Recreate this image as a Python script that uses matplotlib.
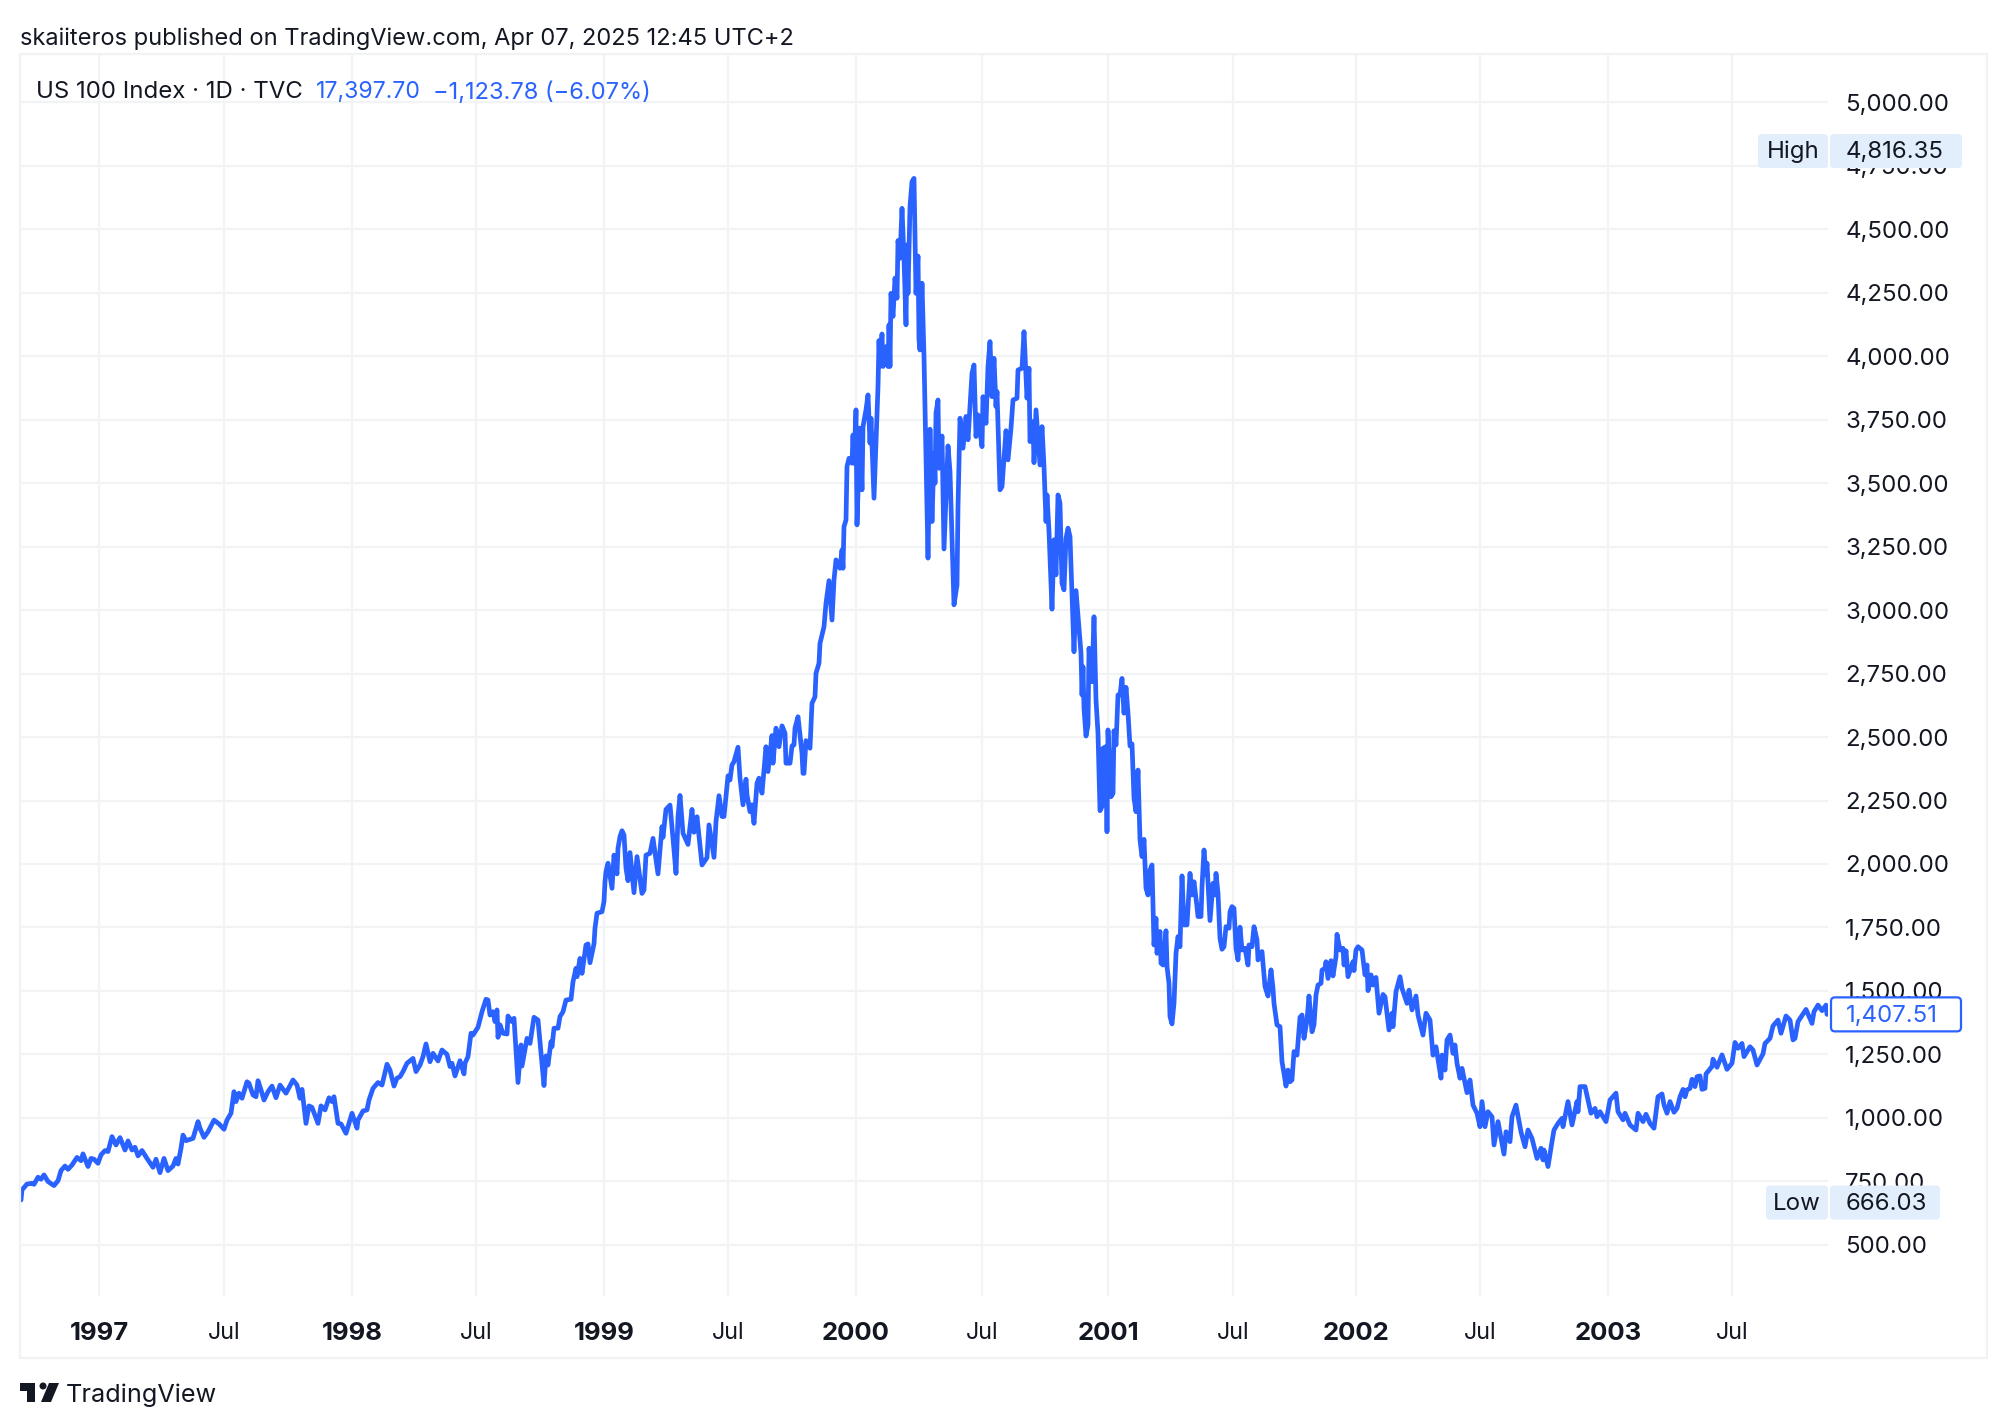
import matplotlib
matplotlib.use('Agg')
import matplotlib.pyplot as plt
from matplotlib.patches import Rectangle, FancyBboxPatch, Polygon, Circle

WIDTH, HEIGHT = 2008, 1428

# trading-day index of each sampled close, counted from the first bar
bars = [
    1, 2, 7, 12, 14, 18, 21, 24, 28, 34, 38, 41,
    45, 48, 52, 57, 61, 63, 68, 71, 74, 78, 81, 85,
    88, 92, 96, 100, 105, 108, 112, 115, 118, 122, 127, 133,
    136, 140, 144, 148, 153, 156, 158, 161, 163, 166, 170, 173,
    178, 180, 184, 188, 194, 199, 204, 207, 211, 214, 216, 219,
    222, 227, 229, 233, 236, 238, 241, 244, 248, 252, 256, 260,
    266, 273, 277, 280, 282, 286, 289, 292, 298, 301, 305, 309,
    312, 314, 318, 321, 326, 332, 337, 338, 343, 347, 349, 353,
    358, 362, 367, 370, 374, 377, 380, 383, 387, 393, 396, 400,
    403, 406, 410, 413, 418, 422, 427, 430, 432, 435, 440, 444,
    445, 448, 451, 453, 458, 462, 466, 468, 470, 473, 475, 477,
    478, 480, 483, 487, 488, 492, 494, 498, 501, 502, 507, 510,
    514, 518, 524, 526, 528, 531, 532, 534, 538, 540, 543, 546,
    551, 553, 556, 557, 560, 562, 566, 568, 570, 574, 575, 577,
    582, 584, 585, 586, 588, 592, 594, 597, 598, 600, 602, 604,
    606, 608, 610, 614, 617, 622, 624, 626, 630, 633, 638, 642,
    643, 646, 650, 653, 656, 658, 660, 663, 668, 672, 674, 677,
    682, 687, 689, 694, 696, 699, 702, 704, 707, 708, 710, 712,
    714, 718, 720, 723, 726, 727, 730, 732, 734, 737, 739, 742,
    746, 748, 752, 753, 756, 759, 762, 765, 766, 770, 772, 774,
    775, 778, 782, 783, 784, 786, 790, 792, 795, 796, 799, 800,
    804, 806, 809, 812, 814, 816, 820, 822, 823, 824, 826, 827,
    829, 832, 833, 834, 836, 837, 840, 842, 843, 846, 848, 850,
    851, 854, 857, 858, 859, 860, 862, 863, 866, 868, 869, 870,
    871, 873, 875, 877, 878, 880, 882, 884, 886, 887, 888, 890,
    892, 894, 896, 898, 899, 900, 902, 904, 908, 910, 912, 914,
    915, 916, 918, 919, 922, 924, 928, 930, 934, 937, 938, 940,
    943, 946, 948, 952, 954, 956, 958, 962, 963, 966, 968, 970,
    972, 974, 976, 977, 980, 982, 986, 988, 991, 993, 997, 998,
    1002, 1004, 1007, 1009, 1010, 1013, 1014, 1016, 1020, 1022, 1024, 1025,
    1026, 1027, 1029, 1032, 1034, 1036, 1038, 1040, 1042, 1044, 1046, 1048,
    1050, 1054, 1056, 1061, 1062, 1063, 1064, 1066, 1068, 1069, 1072, 1074,
    1076, 1078, 1080, 1082, 1083, 1086, 1087, 1088, 1091, 1093, 1094, 1096,
    1098, 1100, 1102, 1104, 1106, 1108, 1110, 1112, 1114, 1116, 1118, 1120,
    1122, 1124, 1126, 1128, 1130, 1132, 1134, 1136, 1137, 1140, 1141, 1143,
    1146, 1147, 1149, 1150, 1152, 1154, 1156, 1158, 1160, 1162, 1164, 1167,
    1170, 1172, 1174, 1177, 1178, 1181, 1182, 1184, 1186, 1187, 1190, 1193,
    1195, 1196, 1198, 1200, 1202, 1204, 1206, 1209, 1210, 1212, 1214, 1216,
    1218, 1220, 1222, 1225, 1228, 1229, 1232, 1234, 1237, 1238, 1242, 1245,
    1248, 1251, 1253, 1254, 1257, 1260, 1262, 1264, 1266, 1268, 1270, 1272,
    1274, 1277, 1280, 1282, 1284, 1287, 1289, 1292, 1294, 1296, 1298, 1301,
    1302, 1305, 1306, 1308, 1311, 1313, 1316, 1317, 1320, 1323, 1324, 1326,
    1328, 1333, 1334, 1336, 1338, 1342, 1345, 1347, 1348, 1351, 1353, 1356,
    1359, 1363, 1365, 1369, 1372, 1373, 1376, 1380, 1382, 1387, 1389, 1392,
    1396, 1398, 1403, 1406, 1410, 1412, 1413, 1416, 1421, 1422, 1425, 1427,
    1430, 1433, 1435, 1437, 1440, 1442, 1447, 1450, 1453, 1457, 1460, 1462,
    1465, 1468, 1472, 1474, 1478, 1484, 1486, 1490, 1492, 1496, 1501, 1505,
    1508, 1512, 1517, 1521, 1523, 1524, 1528, 1532, 1534, 1538, 1542, 1543,
    1548, 1552, 1557, 1558, 1560, 1565, 1571, 1575, 1577, 1580, 1586, 1590,
    1596, 1598, 1603, 1605, 1610, 1616, 1618, 1623, 1626, 1630, 1634, 1638,
    1642, 1644, 1647, 1650, 1654, 1657, 1660, 1663, 1665, 1667, 1670, 1672,
    1675, 1677, 1680, 1682, 1685, 1686, 1692, 1693, 1697, 1702, 1707, 1712,
    1715, 1718, 1722, 1724, 1730, 1733, 1737, 1743, 1745, 1750, 1753, 1758,
    1761, 1766, 1770, 1773, 1775, 1778, 1786, 1792, 1794, 1798, 1802, 1806, 1807,
]

closes = [
    676, 716, 739, 742, 738, 766, 758, 775, 749, 733, 752, 792,
    810, 797, 814, 844, 831, 858, 808, 840, 837, 821, 854, 871,
    867, 926, 893, 922, 873, 909, 873, 884, 850, 871, 840, 805,
    837, 784, 840, 792, 810, 840, 818, 880, 932, 910, 915, 919,
    985, 959, 923, 945, 991, 976, 955, 991, 1018, 1103, 1064, 1097,
    1077, 1142, 1136, 1090, 1083, 1146, 1110, 1070, 1103, 1125, 1079, 1129,
    1097, 1149, 1129, 1077, 1112, 978, 1047, 1041, 978, 1047, 1031, 1079,
    1064, 1083, 978, 976, 939, 1018, 959, 991, 1027, 1031, 1070, 1116,
    1139, 1129, 1211, 1188, 1125, 1156, 1162, 1182, 1215, 1234, 1182, 1208,
    1241, 1291, 1221, 1254, 1224, 1267, 1250, 1202, 1215, 1165, 1225, 1173,
    1215, 1241, 1333, 1326, 1357, 1418, 1467, 1464, 1405, 1418, 1379, 1425,
    1317, 1366, 1333, 1330, 1401, 1379, 1392, 1139, 1287, 1204, 1313, 1293,
    1396, 1385, 1127, 1244, 1208, 1300, 1280, 1353, 1353, 1399, 1418, 1464,
    1467, 1536, 1589, 1556, 1628, 1569, 1681, 1685, 1611, 1685, 1747, 1806,
    1812, 1852, 1930, 1970, 2003, 1904, 2035, 1961, 2062, 2108, 2131, 2114,
    1983, 1934, 2045, 1887, 2029, 1884, 1897, 2035, 2042, 2101, 1961, 2147,
    2105, 2215, 2232, 2101, 1963, 2186, 2270, 2121, 2077, 2215, 2125, 2186,
    1996, 2025, 2154, 2026, 2167, 2269, 2187, 2187, 2305, 2347, 2331, 2390,
    2403, 2460, 2338, 2233, 2334, 2272, 2206, 2233, 2160, 2318, 2338, 2279,
    2462, 2364, 2506, 2397, 2535, 2462, 2544, 2515, 2397, 2397, 2465, 2469,
    2535, 2580, 2436, 2357, 2357, 2486, 2456, 2633, 2659, 2751, 2791, 2869,
    2935, 3027, 3116, 2961, 3119, 3198, 3165, 3237, 3165, 3329, 3355, 3566,
    3598, 3579, 3690, 3579, 3789, 3336, 3717, 3474, 3723, 3789, 3848, 3658,
    3756, 3441, 3763, 3881, 4062, 3960, 4088, 3960, 4038, 3960, 4124, 3960,
    4248, 4157, 4308, 4229, 4456, 4386, 4583, 4386, 4124, 4439, 4248, 4590,
    4688, 4701, 4248, 4395, 4065, 4025, 4288, 3999, 3205, 3713, 3349, 3618,
    3500, 3776, 3828, 3559, 3686, 3241, 3647, 3546, 3021, 3099, 3408, 3756,
    3638, 3763, 3671, 3933, 3966, 3684, 3769, 3644, 3841, 3736, 3960, 4058,
    3841, 3992, 3802, 3861, 3474, 3487, 3707, 3592, 3717, 3828, 3835, 3946,
    3953, 4097, 3835, 3953, 3664, 3743, 3581, 3789, 3572, 3723, 3566, 3461,
    3349, 3454, 3310, 3004, 3277, 3139, 3454, 3421, 3106, 3080, 3283, 3323,
    3290, 2836, 3077, 2830, 2666, 2777, 2613, 2504, 2548, 2850, 2718, 2974,
    2646, 2515, 2210, 2226, 2456, 2462, 2127, 2528, 2265, 2278, 2525, 2469,
    2666, 2666, 2731, 2594, 2696, 2594, 2465, 2473, 2259, 2206, 2370, 2095,
    2029, 2097, 1904, 1878, 1976, 1996, 1681, 1786, 1648, 1734, 1609, 1602,
    1737, 1596, 1530, 1399, 1370, 1451, 1648, 1714, 1674, 1953, 1760, 1760,
    1963, 1878, 1930, 1832, 1793, 1793, 1911, 2055, 1957, 2003, 1777, 1924,
    1878, 1963, 1885, 1707, 1664, 1674, 1753, 1747, 1812, 1832, 1825, 1668,
    1622, 1751, 1661, 1668, 1602, 1681, 1674, 1753, 1701, 1622, 1655, 1517,
    1480, 1583, 1510, 1451, 1366, 1359, 1221, 1175, 1125, 1188, 1142, 1149,
    1261, 1247, 1396, 1405, 1313, 1385, 1480, 1339, 1366, 1484, 1523, 1530,
    1582, 1589, 1615, 1549, 1619, 1559, 1635, 1723, 1661, 1668, 1602, 1658,
    1556, 1615, 1580, 1661, 1674, 1661, 1563, 1602, 1501, 1563, 1523, 1553,
    1412, 1486, 1477, 1346, 1412, 1359, 1497, 1556, 1510, 1451, 1503, 1425,
    1480, 1405, 1326, 1412, 1385, 1293, 1247, 1280, 1156, 1247, 1188, 1307,
    1326, 1254, 1287, 1215, 1156, 1195, 1099, 1149, 1050, 1018, 965, 1064,
    965, 1024, 1004, 893, 985, 857, 945, 906, 1004, 1050, 945, 886,
    952, 919, 840, 880, 834, 873, 808, 906, 952, 978, 998, 965,
    1064, 972, 1064, 1024, 1123, 1123, 1018, 1037, 1004, 1024, 985, 1070,
    1097, 1024, 992, 1018, 972, 952, 1018, 985, 1014, 978, 959, 1083,
    1094, 1051, 1018, 1064, 1022, 1037, 1083, 1112, 1083, 1110, 1116, 1152,
    1123, 1162, 1165, 1112, 1116, 1173, 1202, 1231, 1199, 1248, 1191, 1215,
    1297, 1274, 1293, 1241, 1280, 1267, 1208, 1252, 1293, 1313, 1362, 1385,
    1333, 1401, 1385, 1307, 1313, 1379, 1427, 1372, 1418, 1444, 1422, 1444, 1407.51,
]

time_ticks = [79, 204, 332, 456, 584, 708, 836, 962, 1088, 1213, 1336, 1460, 1588, 1712]
time_labels = ['1997', 'Jul', '1998', 'Jul', '1999', 'Jul', '2000', 'Jul',
               '2001', 'Jul', '2002', 'Jul', '2003', 'Jul']
price_ticks = [500 + 250 * i for i in range(19)]

high_value = 4816.35
low_value = 666.03
last_value = closes[-1]

BLUE = '#2962FF'
TEXT = '#131722'
GRID = '#F2F3F5'
BADGE = '#E3EEFC'
PRICE_SIZE = 17.3

plt.rcParams['font.family'] = ['Inter', 'DejaVu Sans']

fig = plt.figure(figsize=(WIDTH / 100, HEIGHT / 100), dpi=100, facecolor='white')

# price pane, the time scale sits in the space under it
ax = fig.add_axes([20 / WIDTH, 1 - 1296 / HEIGHT, 1808 / WIDTH, 1242 / HEIGHT])
ax.plot(bars, closes, color=BLUE, linewidth=3.4, solid_joinstyle='round',
        solid_capstyle='round', zorder=3)
ax.set_xlim(0, 1808)
ax.set_ylim(298, 5191)
ax.set_xticks(time_ticks)
ax.set_xticklabels(time_labels)
ax.set_yticks(price_ticks)
ax.set_yticklabels([f'{v:,.2f}' for v in price_ticks])
ax.yaxis.tick_right()
ax.tick_params(axis='y', length=0, pad=12.5, labelsize=PRICE_SIZE, labelcolor=TEXT)
ax.tick_params(axis='x', length=0, pad=18.5, labelsize=16.8, labelcolor=TEXT)
for lab, text in zip(ax.get_xticklabels(), time_labels):
    if text != 'Jul':
        lab.set_fontweight('bold')
        lab.set_fontsize(18.5)
for lab in ax.get_yticklabels():
    lab.set_y(lab.get_position()[1])
ax.grid(True, color=GRID, linewidth=1.6)
ax.set_axisbelow(True)
for spine in ax.spines.values():
    spine.set_visible(False)

# overlay in pixel units for the frame, badges, header and logo
ov = fig.add_axes([0, 0, 1, 1], zorder=5)
ov.set_xlim(0, WIDTH)
ov.set_ylim(HEIGHT, 0)
ov.axis('off')
ov.add_patch(Rectangle((20, 54), 1967, 1304, fill=False, edgecolor='#F1F2F4', linewidth=1.6))


def price_y(value):
    # pixel row of a price on the pane's scale
    return HEIGHT - ax.transData.transform((0, value))[1]


def badge(x0, x1, yc, face, edge='none'):
    ov.add_patch(FancyBboxPatch((x0 + 4, yc - 13), x1 - x0 - 8, 26,
                                boxstyle='round,pad=4,rounding_size=4',
                                facecolor=face, edgecolor=edge, linewidth=1.6))


y_high = price_y(high_value) + 2
badge(1758, 1828, y_high, BADGE)
badge(1830, 1962, y_high, BADGE)
ov.text(1793, y_high - 2, 'High', ha='center', va='center_baseline', fontsize=PRICE_SIZE, color=TEXT)
ov.text(1846, y_high - 2, f'{high_value:,.2f}', ha='left', va='center_baseline', fontsize=PRICE_SIZE, color=TEXT)

y_low = price_y(low_value)
badge(1766, 1828, y_low, BADGE)
badge(1830, 1940, y_low, BADGE)
ov.text(1797, y_low - 1, 'Low', ha='center', va='center_baseline', fontsize=PRICE_SIZE, color=TEXT)
ov.text(1846, y_low - 1, f'{low_value:,.2f}', ha='left', va='center_baseline', fontsize=PRICE_SIZE, color=TEXT)

y_last = price_y(last_value)
badge(1831, 1961, y_last, 'white', BLUE)
ov.text(1846, y_last - 1, f'{last_value:,.2f}', ha='left', va='center_baseline', fontsize=PRICE_SIZE, color=BLUE)

# header lines
ov.text(20, 36, 'skaiiteros published on TradingView.com, Apr 07, 2025 12:45 UTC+2',
        ha='left', va='center_baseline', fontsize=17, color=TEXT)
ov.text(36, 90, 'US 100 Index · 1D · TVC', ha='left', va='center_baseline', fontsize=17.3, color=TEXT)
ov.text(316, 90, '17,397.70', ha='left', va='center_baseline', fontsize=16.6, color=BLUE)
ov.text(433, 90, '−1,123.78 (−6.07%)', ha='left', va='center_baseline', fontsize=17, color=BLUE)

# logo mark and wordmark
ov.add_patch(Polygon([(20, 1383), (35, 1383), (35, 1402), (27, 1402), (27, 1391), (20, 1391)],
                     closed=True, facecolor=TEXT, edgecolor='none'))
ov.add_patch(Circle((43, 1386), 3.5, facecolor=TEXT, edgecolor='none'))
ov.add_patch(Polygon([(49, 1383), (59, 1383), (51, 1402), (41, 1402)],
                     closed=True, facecolor=TEXT, edgecolor='none'))
ov.text(66, 1393, 'TradingView', ha='left', va='center_baseline', fontsize=18.2, color=TEXT)

fig.savefig('out.png', dpi=100)
